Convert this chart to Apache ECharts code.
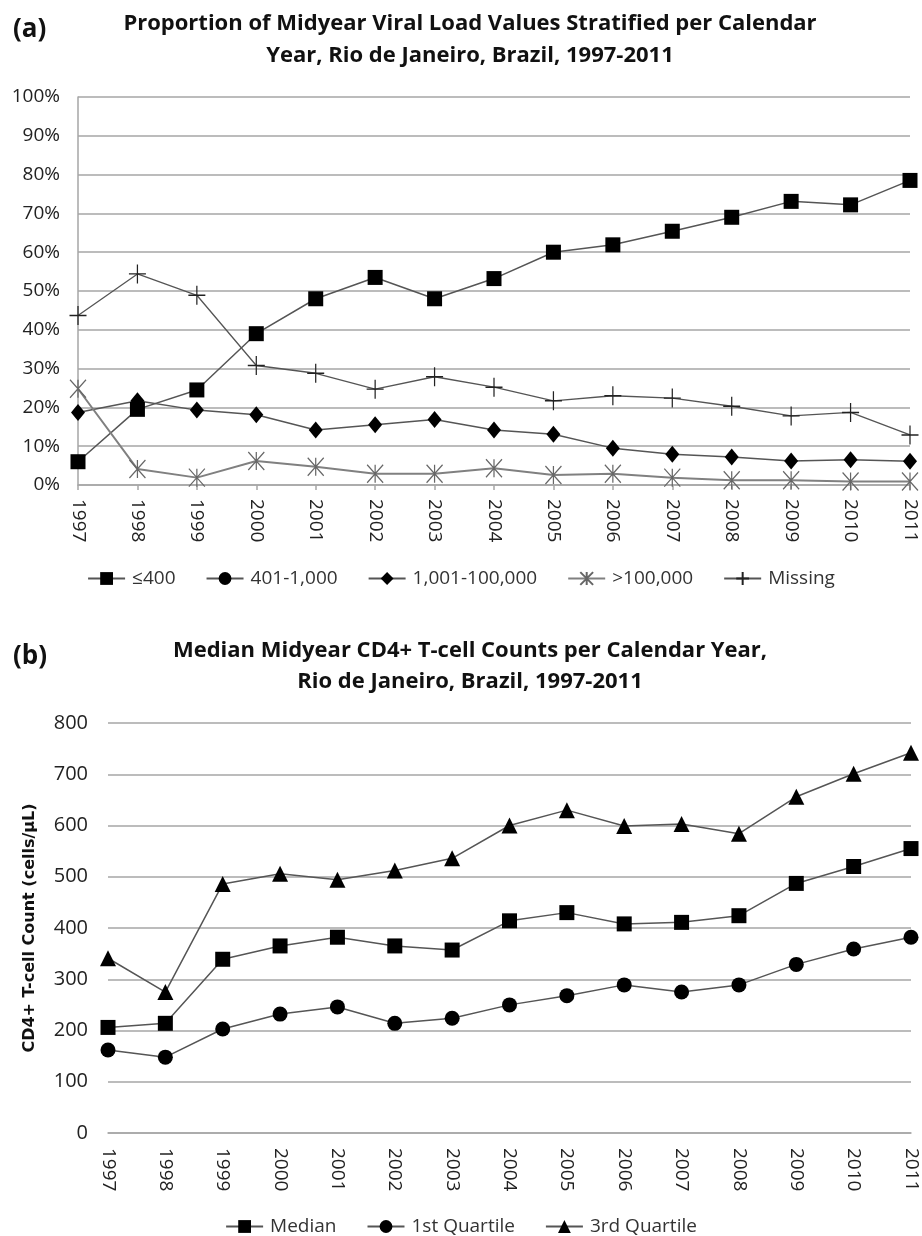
<!DOCTYPE html>
<html>
<head>
<meta charset="utf-8">
<script src="https://cdn.jsdelivr.net/npm/echarts@6/dist/echarts.min.js"></script>
<style>
html,body{margin:0;padding:0;background:#fff;}
#chart{width:922px;height:1236px;}
</style>
</head>
<body>
<div id="chart"></div>
<script>
// ---- Data ----
var years = ['1997','1998','1999','2000','2001','2002','2003','2004','2005','2006','2007','2008','2009','2010','2011'];

// Panel (a): percent of patients
var vlUpTo400      = [6, 19.5, 24.5, 39, 48, 53.5, 48, 53.2, 60, 61.9, 65.4, 69, 73.1, 72.2, 78.5];
var vl401to1000    = [];
var vl1001to100000 = [18.7, 21.7, 19.3, 18.1, 14.2, 15.5, 16.9, 14.2, 13.1, 9.5, 7.9, 7.2, 6.2, 6.5, 6.1];
var vlOver100000   = [24.8, 4.1, 1.9, 6.2, 4.7, 2.9, 2.9, 4.3, 2.6, 2.9, 1.9, 1.2, 1.2, 0.9, 0.9];
var vlMissing      = [43.7, 54.4, 48.9, 30.8, 28.8, 24.7, 27.9, 25.2, 21.7, 23, 22.4, 20.3, 17.8, 18.7, 12.9];
var pctTicks = { min: 0, max: 100, interval: 10 };

// Panel (b): CD4+ counts (cells/uL)
var cd4Median = [206, 214, 339, 365, 382, 365, 357, 414, 430, 408, 411, 424, 487, 520, 555];
var cd4Q1     = [162, 148, 203, 232, 246, 214, 224, 250, 268, 289, 275, 289, 329, 359, 382];
var cd4Q3     = [341, 275, 486, 506, 494, 512, 536, 600, 630, 599, 603, 584, 656, 701, 742];
var cd4Ticks  = { min: 0, max: 800, interval: 100 };

// ---- Styles ----
var FONT = '"Open Sans", "DejaVu Sans", sans-serif';
var TFONT = '"Open Sans", Lato, sans-serif';
var GRID_C = '#a6a6a6';
var LINE_C = '#555555';

var starPath = 'path://M0,0L10,11M10,0L0,11M5,0L5,11';
var plusPath = 'path://M5,0L5,10M0,5L10,5';

function lineSeries(name, data, symbol, size, xi, extra) {
  var s = {
    name: name, type: 'line', data: data,
    xAxisIndex: xi, yAxisIndex: xi,
    symbol: symbol, symbolSize: size, showSymbol: true,
    lineStyle: { color: LINE_C, width: 1.5 },
    itemStyle: { color: '#000', borderWidth: 0 },
    emphasis: { disabled: true },
    animation: false
  };
  if (extra) { for (var k in extra) s[k] = extra[k]; }
  return s;
}

var option = {
  backgroundColor: '#fff',
  animation: false,
  title: [
    { text: '(a)', left: 8, top: 12, textStyle: { fontFamily: FONT, fontWeight: 'bold', fontSize: 26, color: '#111' } },
    { text: 'Proportion of Midyear Viral Load Values Stratified per Calendar\nYear, Rio de Janeiro, Brazil, 1997-2011',
      left: 465, top: 3, textAlign: 'center',
      textStyle: { fontFamily: TFONT, fontWeight: 'bold', fontSize: 22, lineHeight: 32, color: '#111' } },
    { text: '(b)', left: 8, top: 639, textStyle: { fontFamily: FONT, fontWeight: 'bold', fontSize: 26, color: '#111' } },
    { text: 'Median Midyear CD4+ T-cell Counts per Calendar Year,\nRio de Janeiro, Brazil, 1997-2011',
      left: 465, top: 630, textAlign: 'center',
      textStyle: { fontFamily: TFONT, fontWeight: 'bold', fontSize: 22, lineHeight: 31, color: '#111' } }
  ],
  legend: [
    { data: ['≤400', '401-1,000', '1,001-100,000', '>100,000', 'Missing'],
      top: 564, left: 'center', itemWidth: 37, itemHeight: 16, itemGap: 30,
      textStyle: { fontFamily: FONT, fontSize: 19, color: '#333', padding: [0, 0, 0, 2] } },
    { data: ['Median', '1st Quartile', '3rd Quartile'],
      top: 1212, left: 'center', itemWidth: 37, itemHeight: 16, itemGap: 30,
      textStyle: { fontFamily: FONT, fontSize: 19, color: '#333', padding: [0, 0, 0, 2] } }
  ],
  grid: [
    { left: 78, right: 12, top: 97, height: 388, containLabel: false },
    { left: 108, right: 11, top: 723, height: 410, containLabel: false }
  ],
  xAxis: [
    { type: 'category', gridIndex: 0, data: years, boundaryGap: false,
      axisLine: { lineStyle: { color: GRID_C, width: 1.5 } },
      axisTick: { show: true, length: 5, lineStyle: { color: GRID_C, width: 1.5 } },
      axisLabel: { rotate: -90, margin: 14, fontFamily: FONT, fontSize: 19, color: '#222' } },
    { type: 'category', gridIndex: 1, data: years, boundaryGap: false,
      axisLine: { lineStyle: { color: GRID_C, width: 1.5 } },
      axisTick: { show: false },
      axisLabel: { rotate: -90, margin: 15, fontFamily: FONT, fontSize: 19, color: '#222' } }
  ],
  yAxis: [
    { type: 'value', gridIndex: 0, min: pctTicks.min, max: pctTicks.max, interval: pctTicks.interval,
      axisLine: { show: true, lineStyle: { color: GRID_C, width: 1.5 } },
      axisTick: { show: false },
      splitLine: { lineStyle: { color: GRID_C, width: 1.5 } },
      axisLabel: { formatter: '{value}%', margin: 18, fontFamily: FONT, fontSize: 19, color: '#222' } },
    { type: 'value', gridIndex: 1, min: cd4Ticks.min, max: cd4Ticks.max, interval: cd4Ticks.interval,
      name: 'CD4+ T-cell Count (cells/μL)', nameLocation: 'middle', nameGap: 70,
      nameTextStyle: { fontFamily: '"DejaVu Sans", Verdana, sans-serif', fontWeight: 'bold', fontSize: 16, color: '#111' },
      axisLine: { show: false },
      axisTick: { show: false },
      splitLine: { lineStyle: { color: GRID_C, width: 1.5 } },
      axisLabel: { margin: 20, fontFamily: FONT, fontSize: 20, color: '#222' } }
  ],
  series: [
    lineSeries('≤400', vlUpTo400, 'rect', 15, 0),
    lineSeries('401-1,000', vl401to1000, 'circle', 13, 0),
    lineSeries('1,001-100,000', vl1001to100000, 'diamond', [14, 17], 0),
    lineSeries('>100,000', vlOver100000, starPath, [16, 18], 0, {
      lineStyle: { color: '#808080', width: 2 },
      itemStyle: { color: 'none', borderColor: '#666', borderWidth: 1.3 }
    }),
    lineSeries('Missing', vlMissing, plusPath, [17, 19], 0, {
      lineStyle: { color: LINE_C, width: 1.3 },
      itemStyle: { color: 'none', borderColor: '#222', borderWidth: 1.3 }
    }),
    lineSeries('Median', cd4Median, 'rect', 15, 1),
    lineSeries('1st Quartile', cd4Q1, 'circle', 15, 1),
    lineSeries('3rd Quartile', cd4Q3, 'triangle', 16, 1)
  ]
};

var chart = echarts.init(document.getElementById('chart'), null, { renderer: 'canvas' });
chart.setOption(option);
</script>
</body>
</html>
